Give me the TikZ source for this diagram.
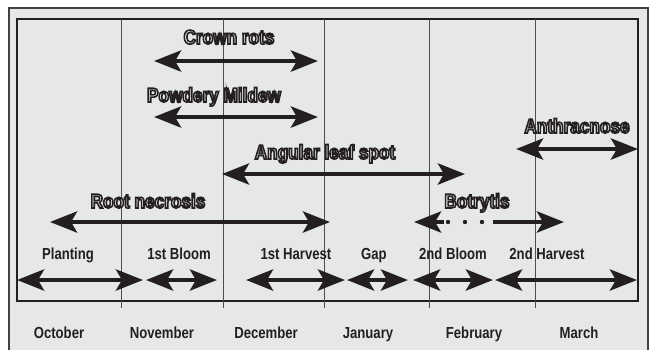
\documentclass[tikz,border=0pt]{standalone}
\usepackage{fontspec}
\usetikzlibrary{arrows.meta}
\newfontfamily\condfont[FakeStretch=0.82]{Liberation Sans}
\newfontfamily\heavyfont[FakeStretch=0.86]{Liberation Sans}
\definecolor{panel}{HTML}{E6E7E8}
\definecolor{ink}{HTML}{231F20}
% obrysove pismo (bila vypln, tmavy obrys)
\newcommand{\outl}[1]{\special{pdf:literal direct 2 Tr 1.6 w 1 g 0.14 0.12 0.13 RG}#1\special{pdf:literal direct 0 Tr 0.4 w 0 g 0 G}}
\tikzset{
  span/.style={draw=ink, line width=4.6pt,
    {Stealth[length=27pt,width=21pt,inset=6pt]}-{Stealth[length=27pt,width=21pt,inset=6pt]}},
  halfspan/.style={draw=ink, line width=4.6pt, -{Stealth[length=27pt,width=21pt,inset=6pt]}},
  phase/.style={anchor=base, text=ink, font=\condfont\bfseries\fontsize{16}{18}\selectfont},
  month/.style={anchor=base, text=ink, font=\condfont\bfseries\fontsize{16}{18}\selectfont},
  disease/.style={anchor=base, font=\heavyfont\bfseries\fontsize{20}{22}\selectfont}
}
\begin{document}
\begin{tikzpicture}[x=1pt,y=-1pt,line join=miter]
  \useasboundingbox (0,0) rectangle (650,349);
  \clip (0,0) rectangle (650,349);
  \fill[white] (0,0) rectangle (650,349);

  % ramecek
  \draw[fill=panel, draw=ink!85, line width=2.6pt] (9,8) rectangle (648,365);
  \draw[ink, line width=1.2pt] (17,19) rectangle (638,301);

  % mesice
  \foreach \x in {121,223,324,429,535}
    \draw[ink!80, line width=0.8pt] (\x,19) -- (\x,308);
  \foreach \m/\x [count=\i] in {October/59,November/162,December/266,January/368,February/474,March/579}
    \node[month] (m\i) at (\x,338) {\m};

  % choroby
  \node[disease] (crown) at (229,44) {\outl{Crown rots}};
  \draw[span] (154,61) -- (318,61);
  \node[disease] (mildew) at (214,102) {\outl{Powdery Mildew}};
  \draw[span] (154,117) -- (318,117);
  \node[disease] (anthr) at (577,133) {\outl{Anthracnose}};
  \draw[span] (516,149) -- (638,149);
  \node[disease] (angular) at (325,159) {\outl{Angular leaf spot}};
  \draw[span] (222,174) -- (465,174);
  \node[disease] (root) at (148,208) {\outl{Root necrosis}};
  \draw[span] (50,222) -- (330,222);
  \node[disease] (botr) at (477,208) {\outl{Botrytis}};
  \draw[halfspan] (444,222) -- (414,222);
  \foreach \x in {448,465,482}
    \fill[ink] (\x,222) circle (2.2);
  \draw[halfspan] (493,222) -- (564,222);

  % faze
  \node[phase] (plant) at (68,259) {Planting};
  \node[phase] (bloom1) at (179,259) {1st Bloom};
  \node[phase] (harv1) at (296,259) {1st Harvest};
  \node[phase] (gap) at (374,259) {Gap};
  \node[phase] (bloom2) at (453,259) {2nd Bloom};
  \node[phase] (harv2) at (547,259) {2nd Harvest};
  \draw[span] (17,280) -- (143,280);
  \draw[span] (146,280) -- (217,280);
  \draw[span] (246,280) -- (345,280);
  \draw[span] (347,280) -- (408,280);
  \draw[span] (413,280) -- (493,280);
  \draw[span] (495,280) -- (637,280);
\end{tikzpicture}
\end{document}
